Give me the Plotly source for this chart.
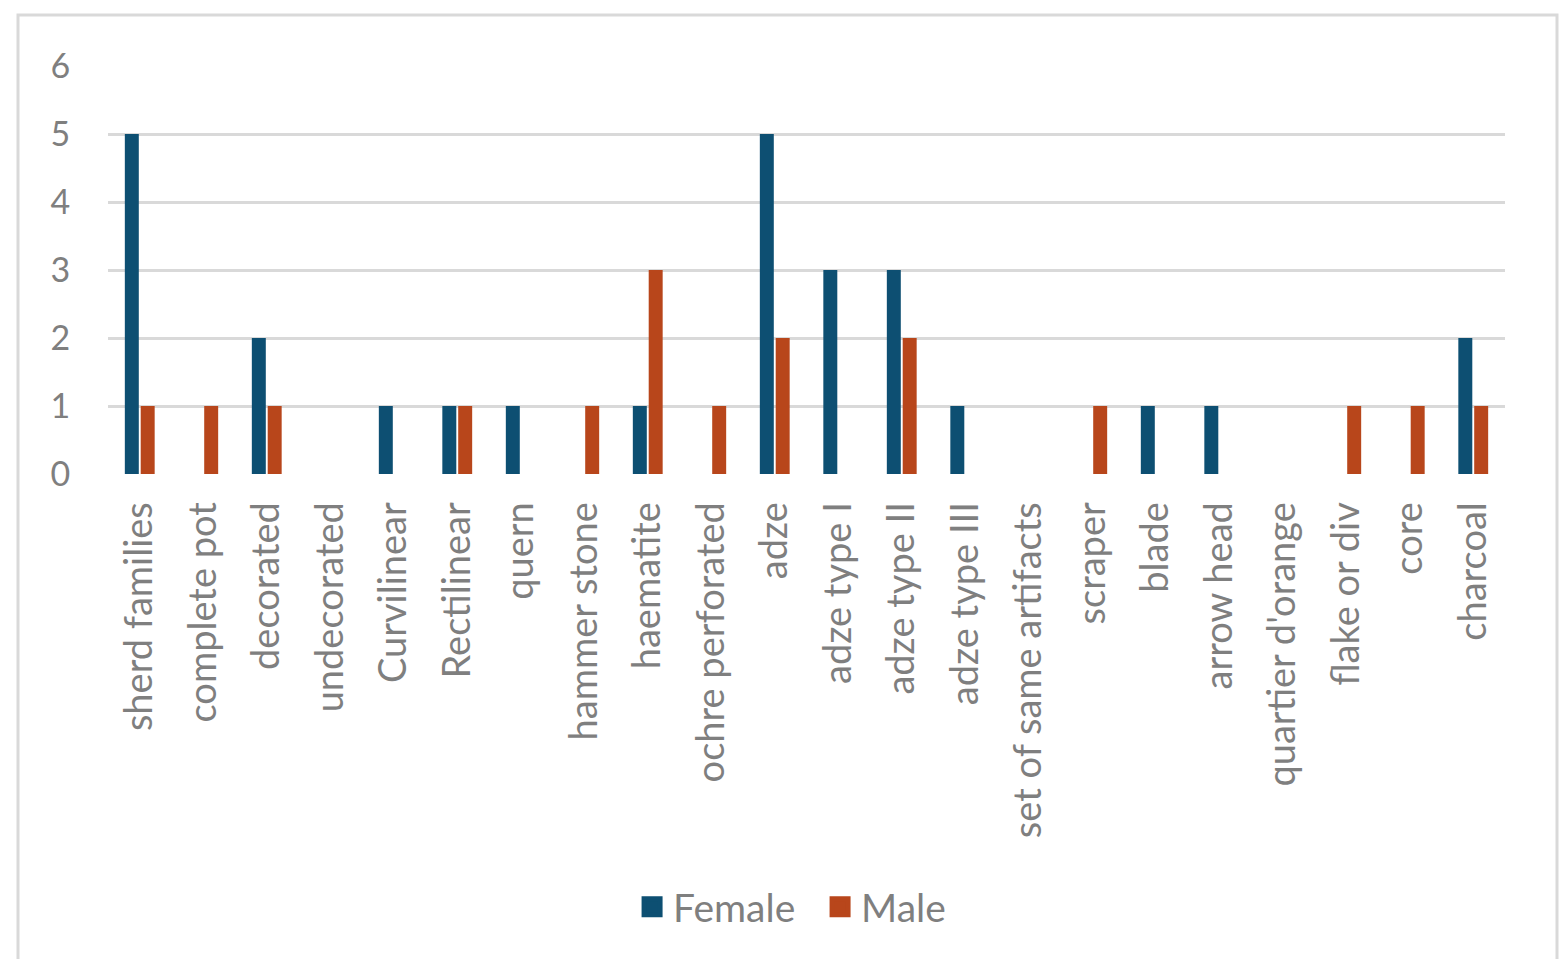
import plotly.graph_objects as go

categories = ["sherd families", "complete pot", "decorated", "undecorated", "Curvilinear",
              "Rectilinear", "quern", "hammer stone", "haematite", "ochre perforated", "adze",
              "adze type I", "adze type II", "adze type III", "set of same artifacts", "scraper",
              "blade", "arrow head", "quartier d'orange", "flake or div", "core", "charcoal"]
female = [5, 0, 2, 0, 1, 1, 1, 0, 1, 0, 5, 3, 3, 1, 0, 0, 1, 1, 0, 0, 0, 2]
male = [1, 1, 1, 0, 0, 1, 0, 1, 3, 1, 2, 0, 2, 0, 0, 1, 0, 0, 0, 1, 1, 1]

FEMALE_C = "#0d4f72"
MALE_C = "#b8461b"

OFF = 8  # page body margin
W, H = 1568 - 2 * OFF, 959 - OFF
L, T = 108 - OFF, 66 - OFF
plot_right, plot_bottom = 1505 - OFF, 474 - OFF
R = W - plot_right
B = H - plot_bottom
pw = plot_right - L
ph = plot_bottom - T

font_family = "Lato, Open Sans, sans-serif"
gray = "#7f7f7f"

fig = go.Figure()
fig.add_trace(go.Bar(x=categories, y=female, name="Female", marker_color=FEMALE_C,
                     marker_line_width=0, showlegend=False))
fig.add_trace(go.Bar(x=categories, y=male, name="Male", marker_color=MALE_C,
                     marker_line_width=0, showlegend=False))
# legend entries
fig.add_trace(go.Scatter(x=[None], y=[None], mode="markers", name="Female",
                         marker=dict(symbol="square", size=22, color=FEMALE_C,
                                     line=dict(color=FEMALE_C, width=5))))
fig.add_trace(go.Scatter(x=[None], y=[None], mode="markers", name="Male",
                         marker=dict(symbol="square", size=22, color=MALE_C,
                                     line=dict(color=MALE_C, width=5))))

fig.update_layout(
    width=W, height=H,
    margin=dict(l=L, r=R, t=T, b=B),
    paper_bgcolor="white", plot_bgcolor="white",
    barmode="group", bargap=0.5, bargroupgap=0.12,
    font=dict(family=font_family, color=gray, size=32),
    showlegend=True,
    legend=dict(orientation="h", x=0.509, xanchor="center", y=(plot_bottom - (907 - OFF)) / ph,
                yanchor="middle", font=dict(size=39, color=gray),
                itemwidth=32, entrywidth=141, traceorder="normal", itemsizing="trace"),
    xaxis=dict(tickangle=-90, tickfont=dict(size=38, color=gray), showgrid=False,
               ticks="outside", ticklen=12, tickcolor="rgba(0,0,0,0)",
               showline=False, zeroline=False),
    yaxis=dict(range=[0, 6], dtick=1, showgrid=True, gridcolor="#d9d9d9", gridwidth=3,
               zeroline=False, tickfont=dict(size=34, color=gray), ticks="outside",
               ticklen=30, tickcolor="rgba(0,0,0,0)", showline=False),
    shapes=[dict(type="rect", xref="paper", yref="paper",
                 x0=(18 - 108) / pw, x1=(1557 - 108) / pw,
                 y0=-2.0, y1=(474 - 15) / ph,
                 line=dict(color="#d9d9d9", width=3), fillcolor="rgba(0,0,0,0)", layer="below")],
)

fig.write_html("out.html")
